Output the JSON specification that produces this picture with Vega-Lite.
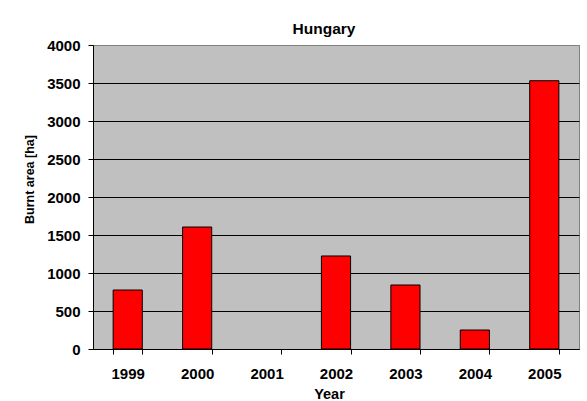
{
  "$schema": "https://vega.github.io/schema/vega-lite/v6.json",
  "width": 486,
  "height": 304,
  "autosize": {"type": "none"},
  "padding": {"left": 93, "top": 45, "right": 8, "bottom": 52},
  "background": "white",
  "config": {
    "font": "Liberation Sans",
    "view": {"fill": "#C0C0C0", "stroke": "#808080", "strokeWidth": 1}
  },
  "title": {
    "text": "Hungary",
    "font": "Liberation Sans",
    "fontSize": 15.5,
    "fontWeight": "bold",
    "color": "black",
    "anchor": "middle",
    "frame": "group",
    "baseline": "alphabetic",
    "offset": 10,
    "dx": -12,
    "dy": 21
  },
  "data": {
    "values": [
      {"Year": "1999", "Area": 776},
      {"Year": "2000", "Area": 1605},
      {"Year": "2001", "Area": 0},
      {"Year": "2002", "Area": 1224},
      {"Year": "2003", "Area": 842},
      {"Year": "2004", "Area": 250},
      {"Year": "2005", "Area": 3530}
    ]
  },
  "mark": {"type": "bar", "color": "#FF0000", "stroke": "black"},
  "encoding": {
    "strokeWidth": {"condition": {"test": "datum.Area === 0", "value": 0}, "value": 1},
    "x": {
      "field": "Year",
      "type": "ordinal",
      "scale": {"paddingInner": 0.58, "paddingOuter": 0.29},
      "axis": {
        "title": "Year",
        "titleFont": "Liberation Sans",
        "titleFontSize": 14.5,
        "titleFontWeight": "bold",
        "titleColor": "black",
        "titleBaseline": "alphabetic",
        "titleX": 236,
        "titleY": 49,
        "titleAnchor": "middle",
        "labelAngle": 0,
        "labelFont": "Liberation Sans",
        "labelFontSize": 15,
        "labelFontWeight": "bold",
        "labelColor": "black",
        "labelPadding": 12,
        "tickBand": "extent",
        "tickSize": 5,
        "tickColor": "black",
        "domainColor": "black",
        "grid": false
      }
    },
    "y": {
      "field": "Area",
      "type": "quantitative",
      "scale": {"domain": [0, 4000], "nice": false},
      "axis": {
        "title": "Burnt area [ha]",
        "titleFont": "Liberation Sans",
        "titleFontSize": 12.5,
        "titleFontWeight": "bold",
        "titleColor": "black",
        "titleBaseline": "alphabetic",
        "titleX": -60,
        "titleY": 134,
        "titleAngle": -90,
        "titleAnchor": "middle",
        "values": [0, 500, 1000, 1500, 2000, 2500, 3000, 3500, 4000],
        "format": "d",
        "labelFont": "Liberation Sans",
        "labelFontSize": 15,
        "labelFontWeight": "bold",
        "labelColor": "black",
        "labelPadding": 8,
        "tickSize": 5,
        "tickColor": "black",
        "domainColor": "black",
        "grid": true,
        "gridColor": {"condition": {"test": "datum.value === 4000", "value": "#808080"}, "value": "black"},
        "gridWidth": 1
      }
    }
  }
}
